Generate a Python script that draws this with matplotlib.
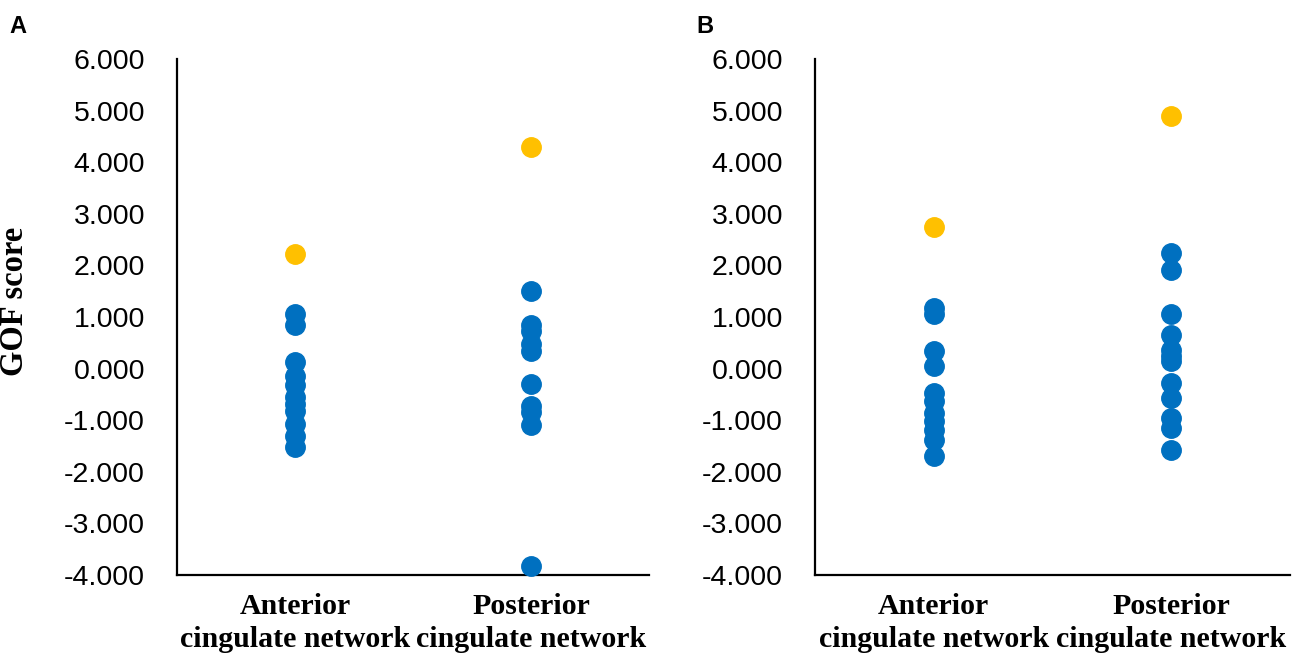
import matplotlib
matplotlib.use('Agg')
import matplotlib.pyplot as plt
from matplotlib.ticker import FuncFormatter

plt.rcParams['axes.unicode_minus'] = False

categories = ['Anterior\ncingulate network', 'Posterior\ncingulate network']

# panel A values (GOF scores)
a_anterior = [1.05, 0.85, 0.12, -0.15, -0.32, -0.55, -0.68, -0.82, -1.08, -1.30, -1.52]
a_anterior_top = 2.23
a_posterior = [1.50, 0.85, 0.72, 0.48, 0.35, -0.30, -0.72, -0.85, -1.10, -3.83]
a_posterior_top = 4.29

# panel B values
b_anterior = [1.18, 1.05, 0.34, 0.05, -0.47, -0.63, -0.86, -1.02, -1.18, -1.38, -1.70]
b_anterior_top = 2.74
b_posterior = [2.25, 1.92, 1.05, 0.66, 0.37, 0.25, 0.14, -0.27, -0.57, -0.96, -1.15, -1.57]
b_posterior_top = 4.89

yticks = [-4, -3, -2, -1, 0, 1, 2, 3, 4, 5, 6]

blue = '#0070C0'
gold = '#FFC000'

fig = plt.figure(figsize=(13, 6.63), dpi=100)
ax_a = fig.add_axes([0.1362, 0.1327, 0.3631, 0.7783])
ax_b = fig.add_axes([0.6269, 0.1327, 0.3654, 0.7783])


def draw_panel(ax, ant, ant_top, post, post_top):
    ax.plot([0] * len(ant), ant, 'o', color=blue, markersize=14, zorder=3)
    ax.plot([1] * len(post), post, 'o', color=blue, markersize=14, zorder=3)
    ax.plot([0], [ant_top], 'o', color=gold, markersize=14, zorder=3)
    ax.plot([1], [post_top], 'o', color=gold, markersize=14, zorder=3)
    ax.set_xlim(-0.5, 1.5)
    ax.set_ylim(-4, 6)
    ax.set_yticks(yticks)
    ax.yaxis.set_major_formatter(FuncFormatter(lambda v, p: '%.3f' % v))
    ax.set_xticks([0, 1])
    ax.set_xticklabels(categories, family='Liberation Serif', fontweight='bold',
                       fontsize=21.5, linespacing=1.3)
    for lab in ax.get_yticklabels():
        lab.set_family('Liberation Sans')
        lab.set_fontsize(20.5)
    ax.tick_params(axis='y', length=0, pad=23)
    ax.tick_params(axis='x', length=0, pad=13)
    ax.spines['top'].set_visible(False)
    ax.spines['right'].set_visible(False)
    ax.spines['left'].set_linewidth(1.6)
    ax.spines['bottom'].set_linewidth(1.6)
    for ln in ax.lines:
        ln.set_clip_on(False)


draw_panel(ax_a, a_anterior, a_anterior_top, a_posterior, a_posterior_top)
draw_panel(ax_b, b_anterior, b_anterior_top, b_posterior, b_posterior_top)

fig.text(0.007, 0.978, 'A', family='Liberation Sans', fontweight='bold',
         fontsize=17, va='top', ha='left')
fig.text(0.536, 0.978, 'B', family='Liberation Sans', fontweight='bold',
         fontsize=17, va='top', ha='left')
fig.text(0.0115, 0.545, 'GOF score', family='Liberation Serif', fontweight='bold',
         fontsize=23.5, rotation=90, va='center', ha='center')

fig.savefig('out.png', dpi=100)
